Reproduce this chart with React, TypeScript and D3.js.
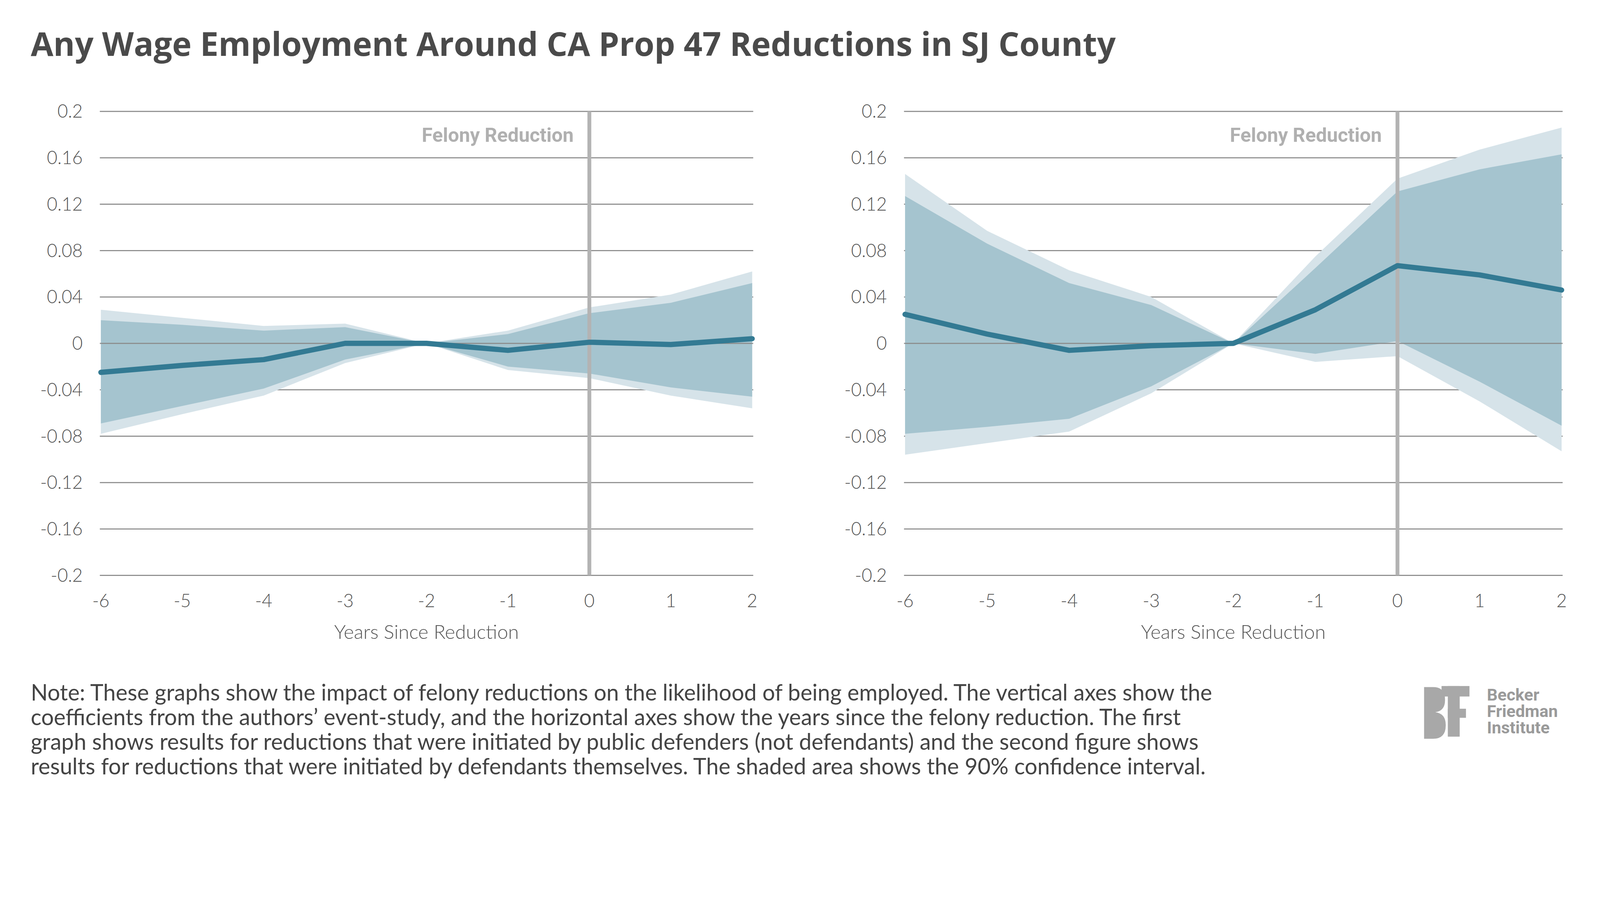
import React from 'react';
import * as d3 from 'd3';

const years = [-6, -5, -4, -3, -2, -1, 0, 1, 2];
const yTicks = [0.2, 0.16, 0.12, 0.08, 0.04, 0, -0.04, -0.08, -0.12, -0.16, -0.2];

// public defenders
const leftMean = [-0.025, -0.019, -0.014, 0, 0, -0.006, 0.001, -0.001, 0.004];
const leftInnerHi = [0.02, 0.016, 0.011, 0.014, 0, 0.008, 0.026, 0.035, 0.052];
const leftInnerLo = [-0.069, -0.054, -0.039, -0.014, 0, -0.02, -0.026, -0.038, -0.046];
const leftOuterHi = [0.029, 0.022, 0.015, 0.017, 0, 0.011, 0.031, 0.042, 0.062];
const leftOuterLo = [-0.078, -0.061, -0.045, -0.017, 0, -0.023, -0.03, -0.045, -0.056];

// defendants themselves
const rightMean = [0.025, 0.008, -0.006, -0.002, 0, 0.029, 0.067, 0.059, 0.046];
const rightInnerHi = [0.127, 0.086, 0.052, 0.033, 0, 0.065, 0.131, 0.15, 0.163];
const rightInnerLo = [-0.078, -0.072, -0.065, -0.037, 0, -0.009, 0.002, -0.033, -0.071];
const rightOuterHi = [0.146, 0.097, 0.063, 0.04, 0, 0.075, 0.142, 0.167, 0.186];
const rightOuterLo = [-0.096, -0.086, -0.076, -0.043, 0, -0.016, -0.011, -0.05, -0.093];

const noteLines = [
  'Note: These graphs show the impact of felony reductions on the likelihood of being employed. The vertical axes show the',
  'coefficients from the authors\u2019 event-study, and the horizontal axes show the years since the felony reduction. The first',
  'graph shows results for reductions that were initiated by public defenders (not defendants) and the second figure shows',
  'results for reductions that were initiated by defendants themselves. The shaded area shows the 90% confidence interval.',
];
const logoLines = ['Becker', 'Friedman', 'Institute'];

const W = 4584;
const H = 2306;
const top = 319;
const bottom = 1648;
const lightFont = "Lato, 'Open Sans', sans-serif";
const narrowFont = "'Liberation Sans Narrow', Roboto, sans-serif";

interface PanelProps {
  x0: number;
  x1: number;
  mean: number[];
  innerHi: number[];
  innerLo: number[];
  outerHi: number[];
  outerLo: number[];
}

const Panel: React.FC<PanelProps> = ({ x0, x1, mean, innerHi, innerLo, outerHi, outerLo }) => {
  const x = d3.scaleLinear().domain([-6, 2]).range([x0, x1]);
  const y = d3.scaleLinear().domain([-0.2, 0.2]).range([bottom, top]);
  const band = (hi: number[], lo: number[]) =>
    d3
      .area<number>()
      .x((d) => x(d))
      .y0((_, i) => y(lo[i]))
      .y1((_, i) => y(hi[i]))(years) || '';
  const line =
    d3
      .line<number>()
      .x((d) => x(d))
      .y((_, i) => y(mean[i]))(years) || '';
  return (
    <g>
      {yTicks.map((t) => (
        <g key={t}>
          <line x1={x0 - 3} x2={x1 + 3} y1={y(t)} y2={y(t)} stroke="#8a8a8a" strokeWidth={3} />
          <text x={x0 - 52} y={y(t)} dy="0.35em" textAnchor="end" fontFamily={lightFont} fontWeight={300} fontSize={52} fill="#555">
            {String(t)}
          </text>
        </g>
      ))}
      <path d={band(outerHi, outerLo)} fill="#d6e3e9" />
      <path d={band(innerHi, innerLo)} fill="#a5c4cf" />
      <line x1={x0} x2={x1} y1={y(0)} y2={y(0)} stroke="#8a8a8a" strokeWidth={3} />
      <line x1={x(0)} x2={x(0)} y1={top} y2={bottom} stroke="#b3b3b3" strokeWidth={11} />
      <text x={x(0) - 45} y={top + 87} textAnchor="end" fontFamily={narrowFont} fontWeight={700} fontSize={56} fill="#b0b0b0">
        Felony Reduction
      </text>
      <path d={line} fill="none" stroke="#337a93" strokeWidth={15} strokeLinejoin="round" strokeLinecap="round" />
      {years.map((d) => (
        <text key={d} x={x(d)} y={1739} textAnchor="middle" fontFamily={lightFont} fontWeight={300} fontSize={52} fill="#555">
          {d}
        </text>
      ))}
      <text x={(x0 + x1) / 2} y={1830} textAnchor="middle" fontFamily={lightFont} fontWeight={300} fontSize={56} fill="#555">
        Years Since Reduction
      </text>
    </g>
  );
};

const App: React.FC = () => (
  <svg
    viewBox={`0 0 ${W} ${H}`}
    preserveAspectRatio="xMinYMin meet"
    style={{ position: 'fixed', left: 0, top: 0, width: '100vw', height: '100vh', display: 'block', background: '#fff' }}
  >
    <rect width={W} height={H} fill="#fff" />
    <text x={88} y={160} fontFamily="'Open Sans', sans-serif" fontWeight={700} fontSize={94} fill="#4a4a4a">
      Any Wage Employment Around CA Prop 47 Reductions in SJ County
    </text>
    <Panel x0={289} x1={2155} mean={leftMean} innerHi={leftInnerHi} innerLo={leftInnerLo} outerHi={leftOuterHi} outerLo={leftOuterLo} />
    <Panel x0={2593} x1={4474} mean={rightMean} innerHi={rightInnerHi} innerLo={rightInnerLo} outerHi={rightOuterHi} outerLo={rightOuterLo} />
    {noteLines.map((l, i) => (
      <text key={i} x={88} y={2007 + i * 70.5} fontFamily="Lato, sans-serif" fontSize={64} fill="#444">
        {l}
      </text>
    ))}
    <g fill="#a8a8a8">
      <path d="M4080,1968 h26 q34,0 34,36 v2 q0,30 -28,34 q30,4 30,36 v2 q0,38 -36,38 h-26 z" />
      <rect x={4130} y={1965} width={80} height={30} />
      <rect x={4148} y={1965} width={34} height={145} />
      <rect x={4148} y={2030} width={52} height={26} />
    </g>
    {logoLines.map((t, i) => (
      <text key={t} x={4260} y={2007 + i * 47} fontFamily={narrowFont} fontWeight={700} fontSize={48} fill="#9a9a9a">
        {t}
      </text>
    ))}
  </svg>
);

export default App;
